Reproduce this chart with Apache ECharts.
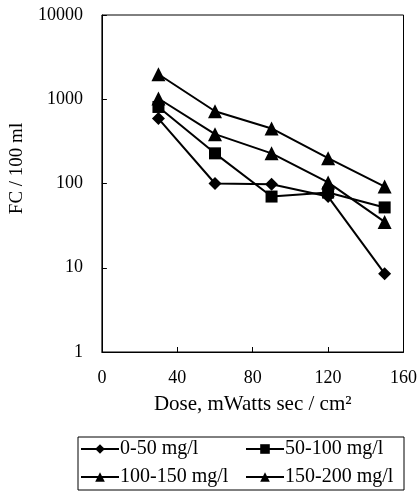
<!DOCTYPE html>
<html>
<head>
<meta charset="utf-8">
<script src="https://cdn.jsdelivr.net/npm/echarts@6/dist/echarts.min.js"></script>
<style>
  html, body { margin: 0; padding: 0; background: #fff; }
  #chart { width: 420px; height: 491px; }
</style>
</head>
<body>
<div id="chart"></div>
<script>
// data
var dose = [30, 60, 90, 120, 150];
var fc0to50 = [590, 100, 98, 70, 8.5];
var fc50to100 = [810, 228, 70, 78, 52];
var fc100to150 = [1020, 385, 228, 103, 35];
var fc150to200 = [1980, 720, 450, 200, 92];
var xTicks = [0, 40, 80, 120, 160];

var serif = '"Liberation Serif", "DejaVu Serif", serif';

function pairs(ys) {
    return dose.map(function (x, i) { return [x, ys[i]]; });
}

function mkSeries(name, data, symbol, size) {
    return {
        name: name,
        type: 'line',
        data: pairs(data),
        symbol: symbol,
        symbolSize: size,
        lineStyle: { color: '#000', width: 2 },
        itemStyle: { color: '#000' },
        animation: false
    };
}

function mkLegend(name, left, top) {
    return {
        data: [name],
        left: left,
        top: top,
        itemWidth: 38,
        itemHeight: 12,
        itemGap: 0,
        padding: 0,
        selectedMode: false,
        textStyle: { fontFamily: serif, fontSize: 20, color: '#000', padding: [0, 0, 0, -4] }
    };
}

var myChart = echarts.init(document.getElementById('chart'));
myChart.setOption({
    backgroundColor: '#fff',
    grid: {
        left: 93, right: 16, top: 15, bottom: 139,
        show: true, borderColor: '#000', borderWidth: 1
    },
    xAxis: {
        type: 'value',
        min: 0, max: 160, interval: 40,
        name: 'Dose, mWatts sec / cm²',
        nameLocation: 'middle',
        nameGap: 42,
        nameTextStyle: { fontFamily: serif, fontSize: 21, color: '#000' },
        axisLine: { lineStyle: { color: '#000' } },
        axisTick: { inside: true, length: 5, lineStyle: { color: '#000' } },
        axisLabel: {
            fontFamily: serif, fontSize: 18, color: '#000', margin: 17,
            formatter: function (v) { return xTicks.indexOf(v) >= 0 ? String(v) : ''; }
        },
        splitLine: { show: false }
    },
    yAxis: {
        type: 'log',
        logBase: 10,
        min: 1, max: 10000,
        name: 'FC / 100 ml',
        nameLocation: 'middle',
        nameGap: 66,
        nameTextStyle: { fontFamily: serif, fontSize: 19, color: '#000', padding: [0, 0, 0, 30] },
        axisLine: { lineStyle: { color: '#000' } },
        axisTick: { inside: true, length: 5, lineStyle: { color: '#000' } },
        axisLabel: {
            fontFamily: serif, fontSize: 18, color: '#000', margin: 19,
            formatter: function (v) { return String(Math.round(v)); }
        },
        splitLine: { show: false }
    },
    legend: [
        mkLegend('0-50 mg/l', 80, 439),
        mkLegend('50-100 mg/l', 245, 439),
        mkLegend('100-150 mg/l', 80, 467),
        mkLegend('150-200 mg/l', 245, 467)
    ],
    graphic: [{
        type: 'rect',
        shape: { x: 78, y: 437, width: 326, height: 53 },
        style: { fill: 'none', stroke: '#000', lineWidth: 1 }
    }],
    series: [
        mkSeries('0-50 mg/l', fc0to50, 'diamond', 13),
        mkSeries('50-100 mg/l', fc50to100, 'rect', 12),
        mkSeries('100-150 mg/l', fc100to150, 'triangle', 14),
        mkSeries('150-200 mg/l', fc150to200, 'triangle', 14)
    ]
});
</script>
</body>
</html>
